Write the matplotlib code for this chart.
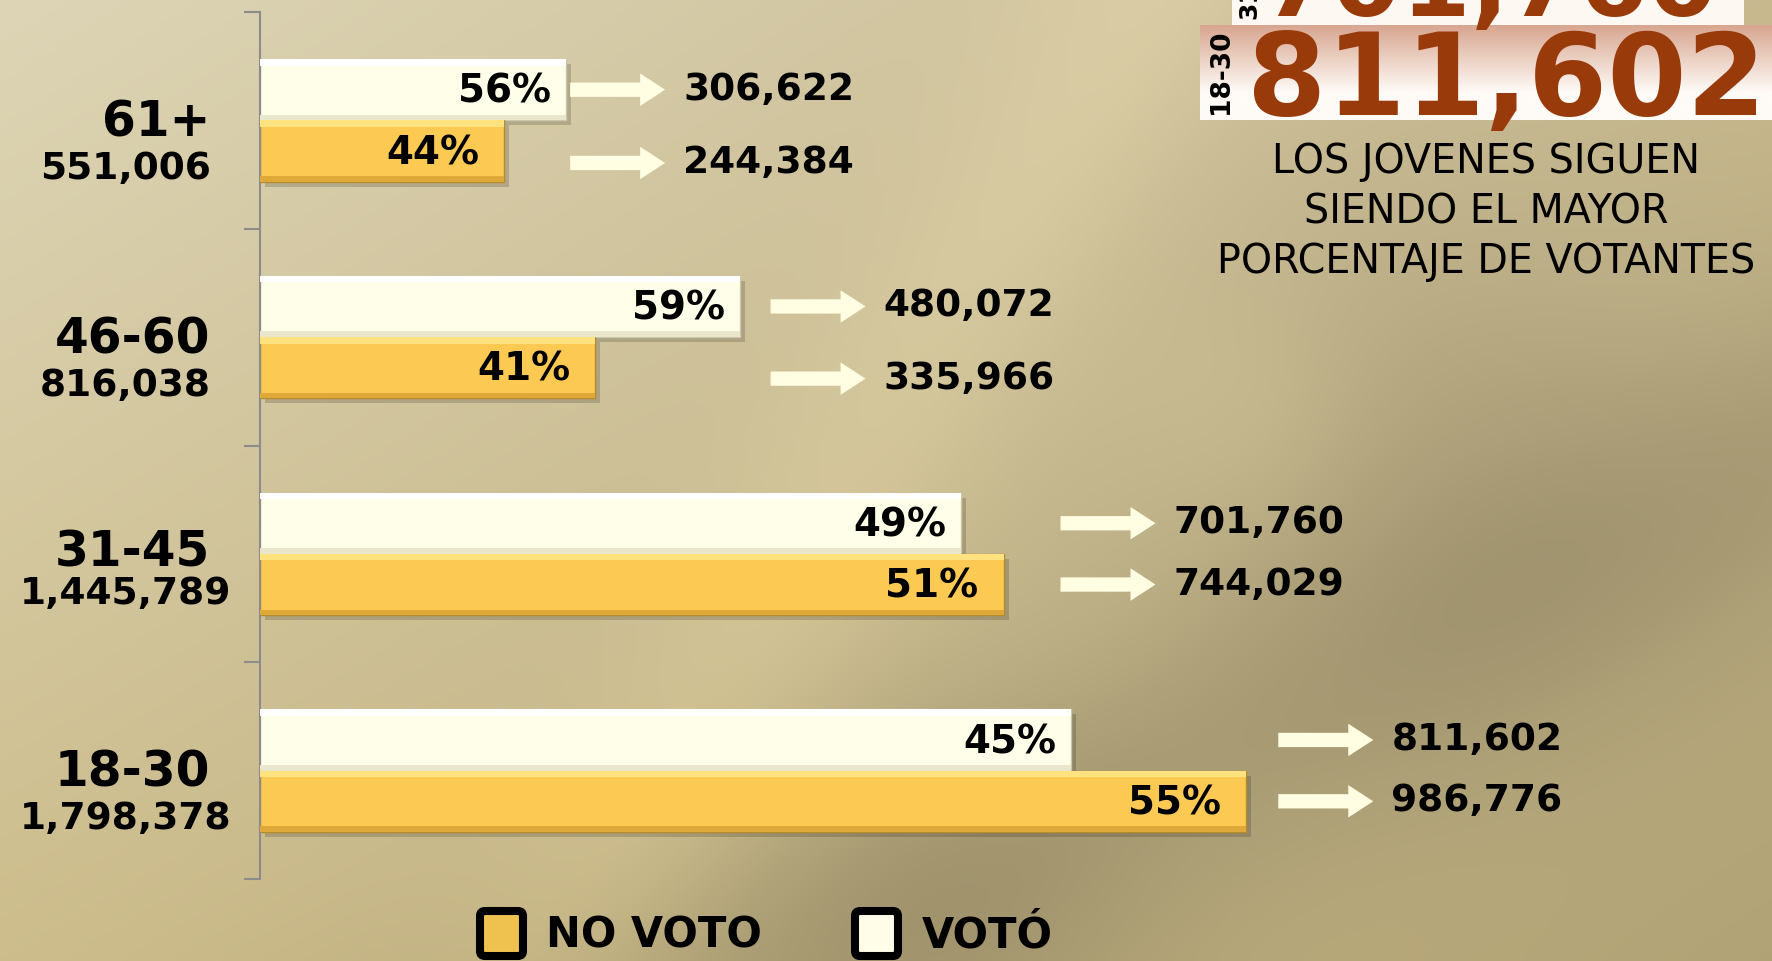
import numpy as np
import matplotlib.pyplot as plt
import matplotlib.transforms as mtransforms
from matplotlib.colors import to_rgb
from matplotlib.patches import FancyArrow, FancyBboxPatch, Rectangle

# data
groups = ['61+', '46-60', '31-45', '18-30']
totals = ['551,006', '816,038', '1,445,789', '1,798,378']
voto = [306622, 480072, 701760, 811602]
no_voto = [244384, 335966, 744029, 986776]
pct_voto = [56, 59, 49, 45]
pct_no_voto = [44, 41, 51, 55]

W, H = 1772, 961
fig = plt.figure(figsize=(W / 100, H / 100), dpi=100)

# background (pixel coordinates, y downwards)
bg = fig.add_axes([0, 0, 1, 1])
bg.axis('off')
gh, gw = 160, 296
v, u = np.mgrid[0:1:gh * 1j, 0:1:gw * 1j]
tl, tr, bl, br = [np.array(to_rgb(c)) for c in ['#ddd5b6', '#c8b98f', '#cdbd8c', '#b2a376']]
img = (tl * ((1 - u) * (1 - v))[..., None] + tr * (u * (1 - v))[..., None]
       + bl * ((1 - u) * v)[..., None] + br * (u * v)[..., None])
X, Y = u * W, v * H


def band(p0, p1, width):
    dx, dy = p1[0] - p0[0], p1[1] - p0[1]
    d = np.abs((X - p0[0]) * dy - (Y - p0[1]) * dx) / np.hypot(dx, dy)
    return np.exp(-(d / width) ** 2)


shade = 1 - 0.09 * band((800, 961), (1772, 470), 150)
shade -= 0.08 * np.exp(-((X - 1450) ** 2 + (Y - 470) ** 2) / 280 ** 2)
shade -= 0.07 * np.exp(-((X - 950) ** 2 + (Y - 930) ** 2) / 220 ** 2)
shade += 0.05 * band((560, 961), (1150, 0), 110)
shade += 0.04 * np.exp(-((X - 1250) ** 2 + (Y - 420) ** 2) / 120 ** 2)
img = np.clip(img * shade[..., None], 0, 1)
bg.imshow(img, extent=[0, W, H, 0], aspect='auto', interpolation='bicubic')

# top right boxes
grad = np.linspace(0, 1, 60)[:, None, None]
top_c, bot_c = np.array(to_rgb('#d8a690')), np.array(to_rgb('#fffbf7'))
mix = np.clip(grad * 1.4, 0, 1)
gbox = np.repeat(top_c * (1 - mix) + bot_c * mix, 2, axis=1)
bg.imshow(gbox, extent=[1200, W, 120, 25], aspect='auto', interpolation='bilinear')
bg.add_patch(Rectangle((1232, -5), 512, 30, facecolor='#fdf8f2', edgecolor='none'))
bg.text(1718, 16, '701,760', ha='right', va='baseline', fontsize=72,
        fontweight='bold', color='#993a0a')
bg.text(1249, 19, '31-45', rotation=90, ha='center', va='bottom', fontsize=18,
        fontweight='bold', color='black')
bg.text(1766, 115, '811,602', ha='right', va='baseline', fontsize=82,
        fontweight='bold', color='#993a0a')
bg.text(1221, 72, '18-30', rotation=90, ha='center', va='center', fontsize=19,
        fontweight='bold', color='black')
for i, line in enumerate(['LOS JOVENES SIGUEN', 'SIENDO EL MAYOR', 'PORCENTAJE DE VOTANTES']):
    bg.text(1486, 162 + 50 * i, line, ha='center', va='center', fontsize=28.5, color='black')

# legend
for bx, tx, fc, lab in [(480, 546, '#efc24f', 'NO VOTO'), (855, 922, '#fffde8', 'VOTÓ')]:
    bg.add_patch(FancyBboxPatch((bx, 911), 43, 45, boxstyle='round,pad=0,rounding_size=5',
                                facecolor=fc, edgecolor='black', linewidth=5.8))
    bg.text(tx, 935, lab, ha='left', va='center', fontsize=30, fontweight='bold')
bg.set_xlim(0, W)
bg.set_ylim(H, 0)

# main chart
x0, top, bottom = 259.5, 12, 879
ax = fig.add_axes([x0 / W, 1 - bottom / H, 1 - x0 / W, (bottom - top) / H])
ax.patch.set_alpha(0)
ax.set_xlim(0, (W - x0) * 1000)
ax.set_ylim(len(groups) - 0.5, -0.5)
for s in ['top', 'right', 'bottom']:
    ax.spines[s].set_visible(False)
ax.spines['left'].set_color('#8c8c8c')
ax.spines['left'].set_linewidth(1.5)
ax.set_xticks([])
ax.set_yticks(np.arange(len(groups) + 1) - 0.5)
ax.set_yticklabels([])
ax.tick_params(axis='y', length=11.5, width=1.5, color='#8c8c8c')

y = np.arange(len(groups))
h = 0.283
shadow = mtransforms.offset_copy(ax.transData, fig=fig, x=5, y=-5, units='dots')
ax.barh(y - h / 2, voto, height=h, color='black', alpha=0.16, transform=shadow, zorder=1)
ax.barh(y + h / 2, no_voto, height=h, color='black', alpha=0.16, transform=shadow, zorder=1)

ax.barh(y - h / 2, voto, height=h, color='#fefee9', edgecolor='#cbc7aa', linewidth=1, zorder=2)
ax.barh(y - h + 0.015, voto, height=0.03, color='#ffffff', zorder=3)
ax.barh(y - 0.013, voto, height=0.026, color='#e9e6cc', zorder=3)
ax.barh(y + h / 2, no_voto, height=h, color='#fcca52', edgecolor='#b48c2c', linewidth=1, zorder=2)
ax.barh(y + 0.015, no_voto, height=0.03, color='#fee27f', zorder=3)
ax.barh(y + h - 0.013, no_voto, height=0.026, color='#dfa93a', zorder=3)

gaps = [4000, 31000, 57000, 32000]
arrow_dy = [0.055, 0.05, 0.0, 0.0]
name_dy = [0.01, 0.01, -0.005, 0.01]
total_dy = [0.225, 0.225, 0.185, 0.225]
for i in range(len(groups)):
    yw, yn = y[i] - h / 2, y[i] + h / 2
    ax.text(voto[i] - 15000, yw + 0.01, f'{pct_voto[i]}%', ha='right', va='center',
            fontsize=28, fontweight='bold', zorder=4)
    ax.text(no_voto[i] - 25000, yn + 0.01, f'{pct_no_voto[i]}%', ha='right', va='center',
            fontsize=28, fontweight='bold', zorder=4)
    start = max(voto[i], no_voto[i]) + gaps[i]
    for yc, val in [(yw, voto[i]), (yn + arrow_dy[i], no_voto[i])]:
        ax.add_patch(FancyArrow(start, yc, 95000, 0, width=0.066, head_width=0.15,
                                head_length=25000, length_includes_head=True,
                                color='#fffde2', lw=0, zorder=4))
        ax.text(start + 113000, yc, f'{val:,}', ha='left', va='center',
                fontsize=27, fontweight='bold', zorder=4)
    ax.text(-49000, y[i] + name_dy[i], groups[i], ha='right', va='center',
            fontsize=35, fontweight='bold', clip_on=False)
    ax.text(-134000, y[i] + total_dy[i], totals[i], ha='center', va='center',
            fontsize=27, fontweight='bold', clip_on=False)

fig.savefig('out.png', dpi=100)
